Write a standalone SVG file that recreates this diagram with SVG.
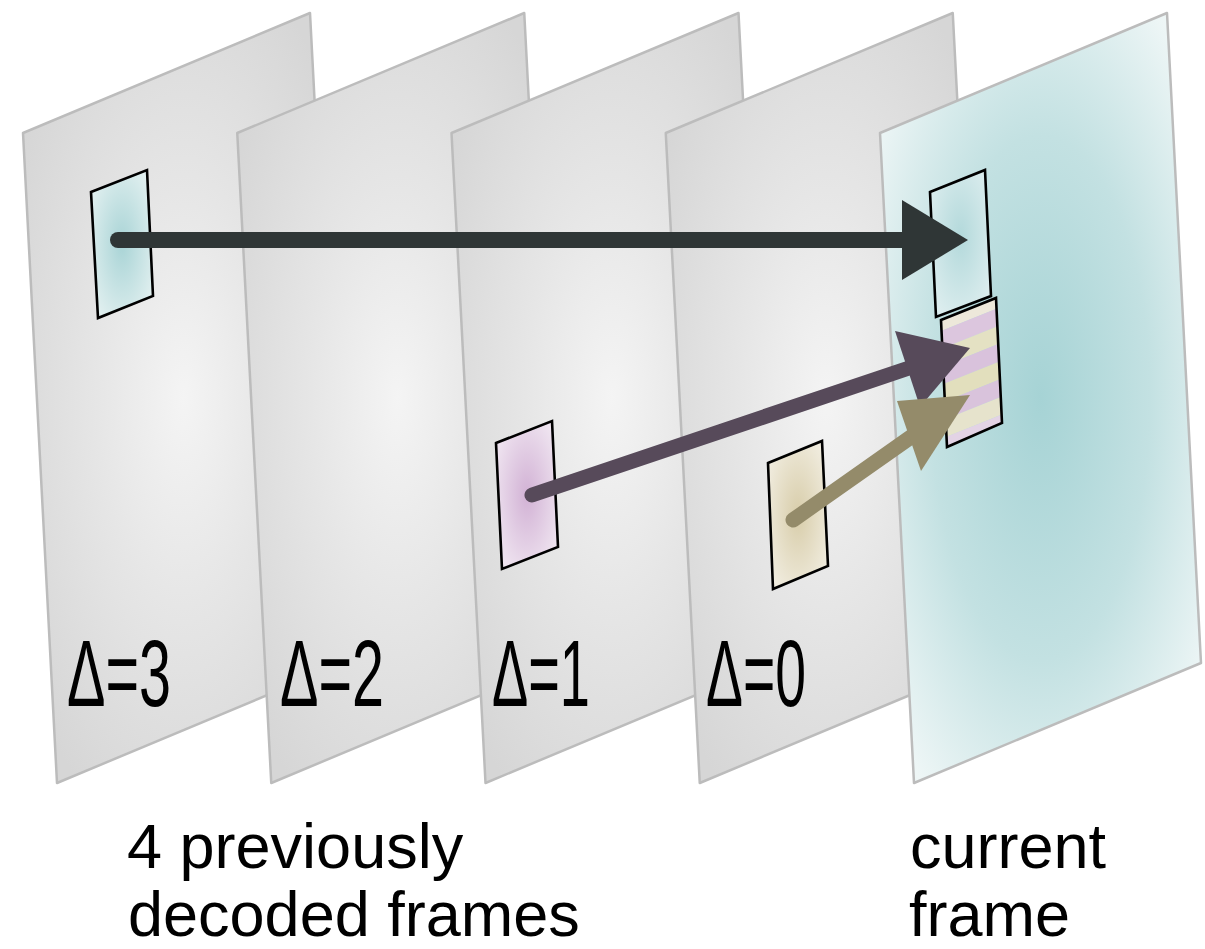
<svg xmlns="http://www.w3.org/2000/svg" width="1205" height="949" viewBox="0 0 1205 949">
  <defs>
    <!-- sheet shading -->
    <radialGradient id="gGray" cx="0.5" cy="0.5" r="0.6">
      <stop offset="0" stop-color="#f4f4f4"/>
      <stop offset="0.45" stop-color="#e6e6e6"/>
      <stop offset="1" stop-color="#d6d6d6"/>
    </radialGradient>
    <radialGradient id="gTeal" cx="0.5" cy="0.5" r="0.62">
      <stop offset="0" stop-color="#a6d3d5"/>
      <stop offset="0.55" stop-color="#c3e1e2"/>
      <stop offset="1" stop-color="#eef6f6"/>
    </radialGradient>
    <!-- block shading -->
    <radialGradient id="bTeal" cx="0.5" cy="0.5" r="0.6">
      <stop offset="0" stop-color="#a9d4d6"/>
      <stop offset="1" stop-color="#e2f0f0"/>
    </radialGradient>
    <radialGradient id="bTealLight" cx="0.5" cy="0.45" r="0.6">
      <stop offset="0" stop-color="#b3d9db"/>
      <stop offset="1" stop-color="#dcedee"/>
    </radialGradient>
    <radialGradient id="bPink" cx="0.5" cy="0.5" r="0.6">
      <stop offset="0" stop-color="#d2b2d5"/>
      <stop offset="1" stop-color="#f0e6f1"/>
    </radialGradient>
    <radialGradient id="bBeige" cx="0.5" cy="0.5" r="0.6">
      <stop offset="0" stop-color="#d8cdaa"/>
      <stop offset="1" stop-color="#f1ede0"/>
    </radialGradient>
    <clipPath id="clipStripe">
      <polygon points="941,320 996,298 1002,423 947,447"/>
    </clipPath>
    <style>
      .sheet { stroke: #bcbcbc; stroke-width: 2.5; stroke-linejoin: round; }
      .gray { fill: url(#gGray); }
      .block { stroke: #000; stroke-width: 2.6; stroke-linejoin: miter; }
      .delta { font-family: "Liberation Sans", Arial, sans-serif; font-size: 95px; fill: #000; }
      .caption { font-family: "Liberation Sans", Arial, sans-serif; font-size: 63px; fill: #000; }
      .shaft { fill: none; stroke-linecap: round; }
    </style>
  </defs>

  <rect width="1205" height="949" fill="#ffffff"/>

  <!-- frame Δ=3 -->
  <g id="frame-d3">
    <polygon class="sheet gray" points="23,133 310,13 344,663 57,783"/>
    <polygon class="block" fill="url(#bTeal)" points="91,192 147,170 153,296 98,318"/>
    <text class="delta" x="67" y="706" textLength="104" lengthAdjust="spacingAndGlyphs">Δ=3</text>
  </g>

  <!-- frame Δ=2 -->
  <g id="frame-d2">
    <polygon class="sheet gray" points="237.25,133 524.25,13 558.25,663 271.25,783"/>
    <text class="delta" x="280" y="706" textLength="104" lengthAdjust="spacingAndGlyphs">Δ=2</text>
  </g>

  <!-- frame Δ=1 -->
  <g id="frame-d1">
    <polygon class="sheet gray" points="451.5,133 738.5,13 772.5,663 485.5,783"/>
    <polygon class="block" fill="url(#bPink)" points="496,443 552,421 558,547 502,569"/>
    <text class="delta" x="492" y="706" textLength="98" lengthAdjust="spacingAndGlyphs">Δ=1</text>
  </g>

  <!-- frame Δ=0 -->
  <g id="frame-d0">
    <polygon class="sheet gray" points="665.75,133 952.75,13 986.75,663 699.75,783"/>
    <polygon class="block" fill="url(#bBeige)" points="768,463 822,441 828,566 773,589"/>
    <text class="delta" x="706" y="706" textLength="100" lengthAdjust="spacingAndGlyphs">Δ=0</text>
  </g>

  <!-- current frame -->
  <g id="frame-current">
    <polygon class="sheet" fill="url(#gTeal)" points="880,133 1167,13 1201,663 914,783"/>
    <polygon class="block" fill="url(#bTealLight)" points="930,192 985,170 991,296 936,317"/>
    <!-- block assembled from two sources: alternating bands -->
    <g clip-path="url(#clipStripe)">
      <g transform="translate(941,320) skewY(-21.8)">
        <rect x="-10" y="-5" width="80" height="16" fill="#ede8da"/>
        <rect x="-10" y="11" width="80" height="18" fill="#dcc6de"/>
        <rect x="-10" y="29" width="80" height="18" fill="#e4e1c3"/>
        <rect x="-10" y="47" width="80" height="18" fill="#d9c2dc"/>
        <rect x="-10" y="65" width="80" height="18" fill="#e2dfbd"/>
        <rect x="-10" y="83" width="80" height="18" fill="#d9c3dc"/>
        <rect x="-10" y="101" width="80" height="18" fill="#e6e3cc"/>
        <rect x="-10" y="119" width="80" height="30" fill="#e3d3e5"/>
      </g>
    </g>
    <polygon class="block" fill="none" points="941,320 996,298 1002,423 947,447"/>
  </g>

  <!-- motion vectors -->
  <g id="connectors">
    <line class="shaft" x1="118" y1="240" x2="905" y2="240" stroke="#2f3636" stroke-width="16"/>
    <polygon fill="#2f3636" points="902,200 968,240 902,280"/>

    <line class="shaft" x1="532" y1="495" x2="909" y2="368" stroke="#574a5a" stroke-width="15"/>
    <polygon fill="#574a5a" points="895,331 970,348 920,407"/>

    <line class="shaft" x1="793" y1="520" x2="918" y2="432" stroke="#948b6a" stroke-width="15"/>
    <polygon fill="#948b6a" points="897,401 970,395 921,471"/>
  </g>

  <!-- captions -->
  <g id="captions">
    <text class="caption" x="127" y="868">4 previously</text>
    <text class="caption" x="128" y="936">decoded frames</text>
    <text class="caption" x="910" y="868">current</text>
    <text class="caption" x="909" y="936">frame</text>
  </g>
</svg>
